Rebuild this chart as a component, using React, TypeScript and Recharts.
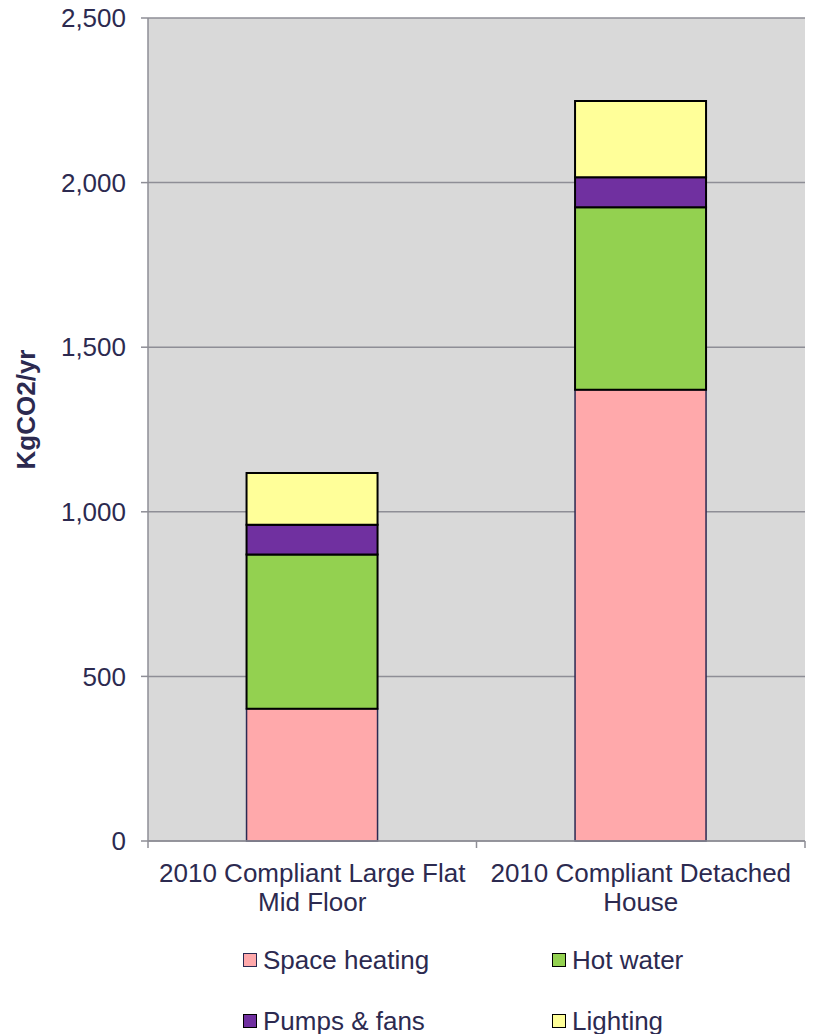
import React from "react";
import { BarChart, Bar, XAxis, YAxis, CartesianGrid, Legend } from "recharts";

const categories = ["2010 Compliant Large Flat Mid Floor", "2010 Compliant Detached House"];
const categoryLines = [
  ["2010 Compliant Large Flat", "Mid Floor"],
  ["2010 Compliant Detached", "House"],
];
const spaceHeating = [402, 1371];
const hotWater = [468, 554];
const pumpsFans = [91, 91];
const lighting = [157, 232];
const yTicks = [0, 500, 1000, 1500, 2000, 2500];

const seriesNames = ["Space heating", "Hot water", "Pumps & fans", "Lighting"];
const seriesKeys = ["spaceHeating", "hotWater", "pumpsFans", "lighting"];
const seriesFills = ["#ffa9ab", "#93d150", "#7030a0", "#ffff99"];
const seriesStrokes = ["#2b2952", "#000000", "#000000", "#000000"];

const data = categories.map((name, i) => ({
  name,
  spaceHeating: spaceHeating[i],
  hotWater: hotWater[i],
  pumpsFans: pumpsFans[i],
  lighting: lighting[i],
}));

const FONT = "'Liberation Sans', Arial, sans-serif";
const TEXT = "#2c2a50";
const AXIS = "#8e8e96";

const CategoryTick = (props: any) => {
  const { x, y, payload, index } = props;
  const half = payload && payload.offset ? payload.offset : 0;
  const idx = categories.indexOf(payload.value);
  const lines = categoryLines[idx] || [String(payload.value)];
  const isLast = idx === categories.length - 1;
  return (
    <g>
      <line x1={x - half} x2={x - half} y1={y} y2={y + 7} stroke={AXIS} strokeWidth={1.5} />
      {isLast && <line x1={x + half} x2={x + half} y1={y} y2={y + 7} stroke={AXIS} strokeWidth={1.5} />}
      <text x={x} y={y} textAnchor="middle" fill={TEXT} fontSize={26} fontFamily={FONT}>
        {lines.map((l, i) => (
          <tspan key={i} x={x} y={y + 41 + i * 29}>
            {l}
          </tspan>
        ))}
      </text>
    </g>
  );
};

const LegendContent = (props: any) => {
  const payload = [...(props.payload || [])].sort(
    (a: any, b: any) => seriesNames.indexOf(a.value) - seriesNames.indexOf(b.value)
  );
  return (
    <div
      style={{
        width: 816,
        height: 113,
        boxSizing: "border-box",
        paddingTop: 24,
        paddingLeft: 243,
        display: "grid",
        gridTemplateColumns: "309px 240px",
        gridAutoRows: "30px",
        rowGap: 31,
        fontFamily: FONT,
        fontSize: 26,
        color: TEXT,
      }}
    >
      {payload.map((p: any, i: number) => {
        const idx = seriesNames.indexOf(p.value);
        return (
          <div key={i} style={{ display: "flex", alignItems: "center", whiteSpace: "nowrap" }}>
            <span
              style={{
                display: "inline-block",
                width: 12,
                height: 12,
                background: seriesFills[idx],
                border: `1.5px solid ${seriesStrokes[idx]}`,
                marginRight: 6,
              }}
            />
            <span>{p.value}</span>
          </div>
        );
      })}
    </div>
  );
};

const YLabel = (props: any) => {
  const vb = props.viewBox || { x: 0, y: 0, width: 0, height: 0 };
  const cx = vb.x + 26;
  const cy = vb.y + vb.height / 2 - 20;
  return (
    <text
      x={cx}
      y={cy}
      transform={`rotate(-90 ${cx} ${cy})`}
      textAnchor="middle"
      dominantBaseline="central"
      fill={TEXT}
      fontSize={26}
      fontWeight="bold"
      fontFamily={FONT}
    >
      KgCO2/yr
    </text>
  );
};

export default function App() {
  return (
    <div style={{ position: "absolute", left: 0, top: 0, width: 816, height: 1034, background: "#fff", fontFamily: FONT }}>
      <BarChart
        width={816}
        height={1034}
        data={data}
        margin={{ top: 18, right: 11, bottom: 0, left: 0 }}
        barCategoryGap="30%"
      >
        <CartesianGrid
          vertical={false}
          stroke={AXIS}
          strokeWidth={1.5}
          fill="#d9d9d9"
          fillOpacity={1}
        />
        <XAxis
          dataKey="name"
          interval={0}
          height={80}
          tickLine={false}
          tickSize={0}
          tickMargin={0}
          axisLine={{ stroke: AXIS, strokeWidth: 1.5 }}
          tick={<CategoryTick />}
        />
        <YAxis
          width={148}
          domain={[0, 2500]}
          ticks={yTicks}
          interval={0}
          tickFormatter={(v: number) => v.toLocaleString("en-US")}
          tick={{ fill: TEXT, fontSize: 26, fontFamily: FONT }}
          tickSize={7}
          tickMargin={15}
          tickLine={{ stroke: AXIS, strokeWidth: 1.5 }}
          axisLine={{ stroke: AXIS, strokeWidth: 1.5 }}
          label={<YLabel />}
        />
        <Legend verticalAlign="bottom" height={113} content={<LegendContent />} />
        {seriesKeys.map((k, i) => (
          <Bar
            key={k}
            dataKey={k}
            name={seriesNames[i]}
            stackId="a"
            fill={seriesFills[i]}
            stroke={seriesStrokes[i]}
            strokeWidth={i === 0 ? 1.5 : 2}
            isAnimationActive={false}
          />
        ))}
      </BarChart>
    </div>
  );
}
